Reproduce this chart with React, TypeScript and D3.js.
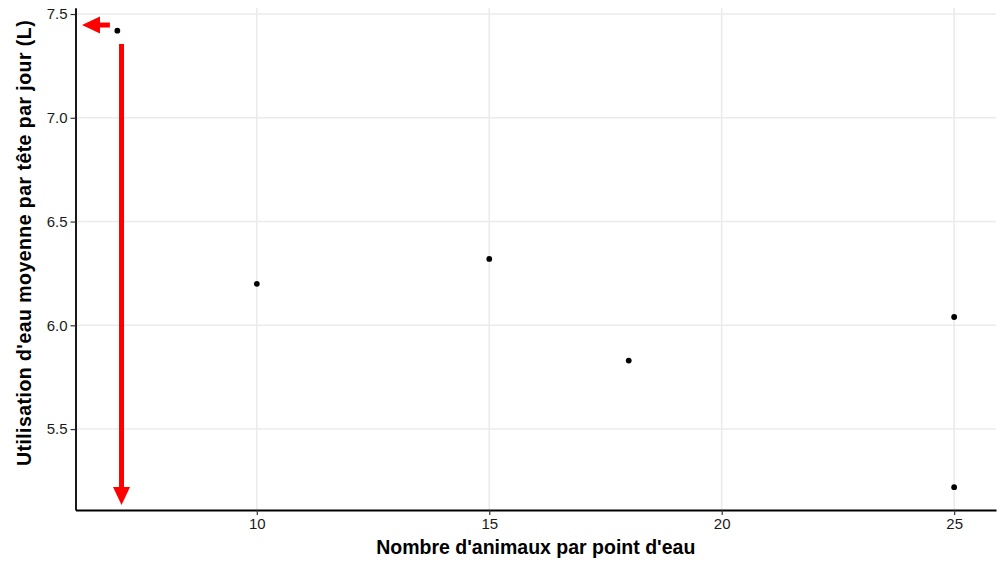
import React, { useEffect, useRef } from "react";
import * as d3 from "d3";

// animals per water point vs mean water use per head per day
const animalsPerPoint = [7, 10, 15, 18, 25, 25];
const waterUse = [7.42, 6.2, 6.32, 5.83, 6.04, 5.22];
const xTicks = [10, 15, 20, 25];
const yTicks = [5.5, 6.0, 6.5, 7.0, 7.5];
// red annotation arrows, in data units: [x1, y1, x2, y2] (x2,y2 = tip)
const arrows = [
  [6.84, 7.447, 6.24, 7.447],
  [7.09, 7.355, 7.09, 5.134],
];

const W = 1001;
const H = 562;

export default function App() {
  const ref = useRef<SVGSVGElement>(null);

  useEffect(() => {
    const svg = d3.select(ref.current);
    svg.selectAll("*").remove();
    const font = "Liberation Sans, Arial, sans-serif";

    const x = d3.scaleLinear().domain([6.1, 25.9]).range([75.5, 996]);
    const y = d3.scaleLinear().domain([5.11, 7.53]).range([510, 7.8]);

    const g = svg.append("g");

    // grid
    g.selectAll(".gx")
      .data(xTicks)
      .join("line")
      .attr("x1", (d) => x(d))
      .attr("x2", (d) => x(d))
      .attr("y1", y(5.11))
      .attr("y2", y(7.53))
      .attr("stroke", "#ebebeb")
      .attr("stroke-width", 1.6);
    g.selectAll(".gy")
      .data(yTicks)
      .join("line")
      .attr("x1", x(6.1))
      .attr("x2", x(25.9))
      .attr("y1", (d) => y(d))
      .attr("y2", (d) => y(d))
      .attr("stroke", "#ebebeb")
      .attr("stroke-width", 1.6);

    // axes
    const xAxis = g
      .append("g")
      .attr("transform", `translate(0,${y(5.11)})`)
      .call(d3.axisBottom(x).tickValues(xTicks).tickSize(5).tickSizeOuter(0).tickPadding(3));
    const yAxis = g
      .append("g")
      .attr("transform", `translate(${x(6.1)},0)`)
      .call(
        d3.axisLeft(y).tickValues(yTicks).tickSize(5).tickSizeOuter(0).tickPadding(3).tickFormat(d3.format(".1f"))
      );
    [xAxis, yAxis].forEach((a) => {
      a.select(".domain").attr("stroke", "#000").attr("stroke-width", 1.8);
      a.selectAll(".tick line").attr("stroke", "#333").attr("stroke-width", 1.2);
      a.selectAll("text").attr("fill", "#1a1a1a").style("font-family", font).style("font-size", "15px");
    });

    // points
    g.selectAll("circle")
      .data(animalsPerPoint.map((a, i) => [a, waterUse[i]]))
      .join("circle")
      .attr("cx", (d) => x(d[0]))
      .attr("cy", (d) => y(d[1]))
      .attr("r", 2.9)
      .attr("fill", "#000");

    // arrows: shaft stops where the head begins
    const headLen = 18;
    const headW = 17;
    arrows.forEach((d) => {
      const x1 = x(d[0]), y1 = y(d[1]), x2 = x(d[2]), y2 = y(d[3]);
      const len = Math.hypot(x2 - x1, y2 - y1);
      const ux = (x2 - x1) / len, uy = (y2 - y1) / len;
      const bx = x2 - ux * headLen, by = y2 - uy * headLen;
      g.append("line")
        .attr("x1", x1)
        .attr("y1", y1)
        .attr("x2", bx + ux)
        .attr("y2", by + uy)
        .attr("stroke", "#ff0000")
        .attr("stroke-width", 5);
      const px = -uy * headW / 2, py = ux * headW / 2;
      g.append("path")
        .attr("d", `M${x2},${y2}L${bx + px},${by + py}L${bx - px},${by - py}Z`)
        .attr("fill", "#ff0000");
    });

    // titles
    svg
      .append("text")
      .attr("x", (x(6.1) + x(25.9)) / 2)
      .attr("y", 554)
      .attr("text-anchor", "middle")
      .style("font-family", font)
      .style("font-size", "19.5px")
      .style("font-weight", "bold")
      .text("Nombre d'animaux par point d'eau");
    svg
      .append("text")
      .attr("transform", `translate(31,243) rotate(-90)`)
      .attr("text-anchor", "middle")
      .style("font-family", font)
      .style("font-size", "19.5px")
      .style("font-weight", "bold")
      .style("letter-spacing", "0.45px")
      .text("Utilisation d'eau moyenne par tête par jour (L)");
  }, []);

  return (
    <svg
      ref={ref}
      width={W}
      height={H}
      style={{ position: "absolute", left: 0, top: 0, background: "#fff" }}
    />
  );
}
